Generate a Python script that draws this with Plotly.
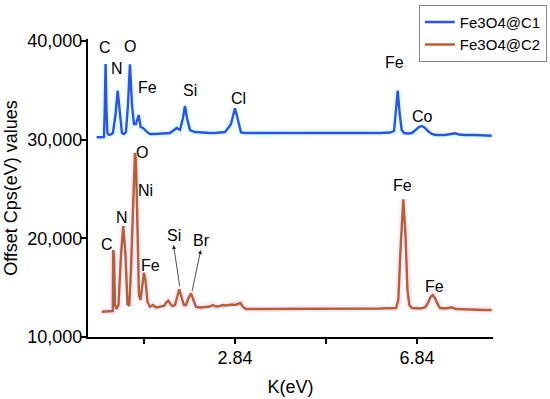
import plotly.graph_objects as go

# ---- data ----
c1_x = [-0.200, -0.127, -0.039, -0.022, -0.004, 0.016, 0.036, 0.069, 0.113, 0.157, 0.214, 0.262, 0.308,
        0.356, 0.400, 0.444, 0.488, 0.532, 0.576, 0.620, 0.664, 0.724, 0.767, 0.818, 0.899, 0.972,
        1.082, 1.192, 1.302, 1.411, 1.559, 1.631, 1.697, 1.741, 1.785, 1.851, 1.961, 2.071, 2.181,
        2.291, 2.400, 2.510, 2.620, 2.708, 2.752, 2.796, 2.840, 2.884, 2.928, 2.972, 3.060, 3.389,
        3.829, 4.269, 4.708, 5.148, 5.587, 6.027, 6.247, 6.335, 6.368, 6.416, 6.462, 6.504, 6.555,
        6.642, 6.730, 6.818, 6.884, 6.943, 7.005, 7.082, 7.163, 7.258, 7.455, 7.587, 7.675, 7.763,
        7.895, 8.115, 8.334, 8.482]
c1_y = [30238, 30270, 30270, 33004, 37666, 33004, 30673, 30471, 30522, 30673, 32497, 34960, 32497,
        30673, 30572, 30775, 33511, 37636, 33511, 31585, 31585, 32497, 31281, 31180, 30806, 30572,
        30572, 30623, 30673, 30673, 31180, 30978, 32194, 33409, 32194, 30978, 30775, 30724, 30704,
        30673, 30673, 30724, 30775, 31281, 31585, 32396, 33176, 32396, 31383, 30724, 30673, 30673,
        30623, 30673, 30623, 30673, 30623, 30673, 30724, 30876, 32497, 34960, 32497, 30977, 30673,
        30623, 30673, 30977, 31281, 31383, 31231, 30876, 30572, 30471, 30471, 30572, 30643, 30522,
        30471, 30471, 30441, 30400]

c2_x = [-0.090, 0.005, 0.093, 0.154, 0.163, 0.181, 0.203, 0.236, 0.280, 0.335, 0.385, 0.434, 0.477,
        0.517, 0.554, 0.598, 0.642, 0.664, 0.697, 0.730, 0.763, 0.803, 0.840, 0.873, 0.917, 0.972,
        1.038, 1.104, 1.192, 1.280, 1.335, 1.374, 1.422, 1.466, 1.521, 1.565, 1.616, 1.664, 1.719,
        1.763, 1.818, 1.873, 1.928, 1.983, 2.071, 2.181, 2.290, 2.356, 2.422, 2.510, 2.576, 2.642,
        2.708, 2.774, 2.840, 2.906, 2.961, 3.016, 3.082, 3.389, 3.829, 4.269, 4.708, 5.148, 5.587,
        6.027, 6.379, 6.429, 6.477, 6.539, 6.587, 6.631, 6.671, 6.730, 6.906, 7.016, 7.082, 7.137,
        7.185, 7.236, 7.291, 7.345, 7.455, 7.603, 7.697, 7.895, 8.115, 8.334, 8.482]
c2_y = [12564, 12564, 12584, 12635, 18817, 18310, 13243, 12838, 13243, 18310, 21249, 18310, 13344,
        13142, 16790, 23884, 28647, 27937, 19830, 14256, 13750, 15270, 16516, 15776, 13547, 13071,
        13243, 12990, 13040, 13142, 13547, 13679, 13344, 13142, 13243, 14054, 14834, 14054, 13243,
        13243, 13952, 14429, 13750, 13040, 12990, 13040, 13091, 13243, 13091, 13142, 13243, 13192,
        13243, 13293, 13243, 13344, 13446, 13040, 12838, 12838, 12838, 12838, 12838, 12838, 12838,
        12888, 12939, 13750, 18817, 23954, 20337, 14763, 13243, 12939, 12888, 12990, 13446, 14054,
        14256, 13952, 13344, 12939, 12888, 13010, 12838, 12787, 12787, 12736, 12736]

series_names = ["Fe3O4@C1", "Fe3O4@C2"]

# peak labels (text, x in eV, y in counts)
c1_labels = ["C", "N", "O", "Fe", "Si", "Cl", "Fe", "Co"]
c1_label_x = [-0.017, 0.247, 0.532, 0.928, 1.851, 2.928, 6.356, 6.950]
c1_label_y = [39389, 37261, 39490, 35335, 35031, 34220, 37869, 32396]

c2_labels = ["O", "Ni", "N", "C", "Fe", "Si", "Br", "Fe", "Fe"]
c2_label_x = [0.796, 0.884, 0.356, 0.027, 0.994, 1.499, 2.115, 6.532, 7.214]
c2_label_y = [28748, 24897, 22161, 19425, 17296, 20337, 19830, 25404, 15168]

# arrows (head near label -> tail at peak)
arrow_head_x = [1.489, 2.088]
arrow_head_y = [19323, 18817]
arrow_tail_x = [1.631, 1.890]
arrow_tail_y = [14966, 14489]

x_tickvals = [0.84, 2.84, 4.84, 6.84]
x_ticktext = ["", "2.84", "", "6.84"]
y_tickvals = [10000, 20000, 30000, 40000]

BLUE = "#2f54d6"
BROWN = "#b0603c"
FONT = "Arial, Liberation Sans, sans-serif"

fig = go.Figure()
# soft glow behind lines
fig.add_trace(go.Scatter(x=c1_x, y=c1_y, mode="lines", line=dict(color="rgba(170,250,255,0.35)", width=7),
                         showlegend=False, hoverinfo="skip"))
fig.add_trace(go.Scatter(x=c2_x, y=c2_y, mode="lines", line=dict(color="rgba(255,180,220,0.28)", width=7),
                         showlegend=False, hoverinfo="skip"))
fig.add_trace(go.Scatter(x=c1_x, y=c1_y, mode="lines", name=series_names[0],
                         line=dict(color=BLUE, width=2.4)))
fig.add_trace(go.Scatter(x=c2_x, y=c2_y, mode="lines", name=series_names[1],
                         line=dict(color=BROWN, width=2.4)))

annotations = []
for t, x, y in zip(c1_labels + c2_labels, c1_label_x + c2_label_x, c1_label_y + c2_label_y):
    annotations.append(dict(x=x, y=y, xref="x", yref="y", text=t, showarrow=False,
                            font=dict(family=FONT, size=16, color="black")))
for hx, hy, tx, ty in zip(arrow_head_x, arrow_head_y, arrow_tail_x, arrow_tail_y):
    annotations.append(dict(x=hx, y=hy, xref="x", yref="y", ax=tx, ay=ty, axref="x", ayref="y",
                            text="", showarrow=True, arrowhead=2, arrowsize=1, arrowwidth=0.8,
                            arrowcolor="#222"))

fig.update_layout(
    width=550, height=399,
    margin=dict(l=88, r=57, t=39, b=62, autoexpand=False),
    paper_bgcolor="white", plot_bgcolor="white",
    font=dict(family=FONT, size=18, color="black"),
    annotations=annotations,
    legend=dict(x=1.133, xanchor="right", y=1.115, yanchor="top",
                bgcolor="white", bordercolor="#888", borderwidth=1,
                font=dict(family=FONT, size=15, color="black"),
                tracegroupgap=0, itemwidth=30),
    xaxis=dict(range=[-0.39, 8.51], tickmode="array", tickvals=x_tickvals, ticktext=x_ticktext,
               showline=True, linecolor="black", linewidth=2, ticks="outside", ticklen=5,
               tickwidth=2, tickcolor="black", showgrid=False, zeroline=False,
               ticklabelstandoff=-2,
               title=dict(text="K(eV)", font=dict(family=FONT, size=18), standoff=14)),
    yaxis=dict(range=[10000, 40200], tickmode="array", tickvals=y_tickvals, tickformat=",d",
               showline=True, linecolor="black", linewidth=2, ticks="outside", ticklen=5,
               tickwidth=2, tickcolor="black", showgrid=False, zeroline=False,
               ticklabelstandoff=-5,
               title=dict(text="Offset Cps(eV) values", font=dict(family=FONT, size=18), standoff=5)),
)

fig.write_html("out.html", config={"displayModeBar": False},
               post_script="document.body.style.margin='0px';")
